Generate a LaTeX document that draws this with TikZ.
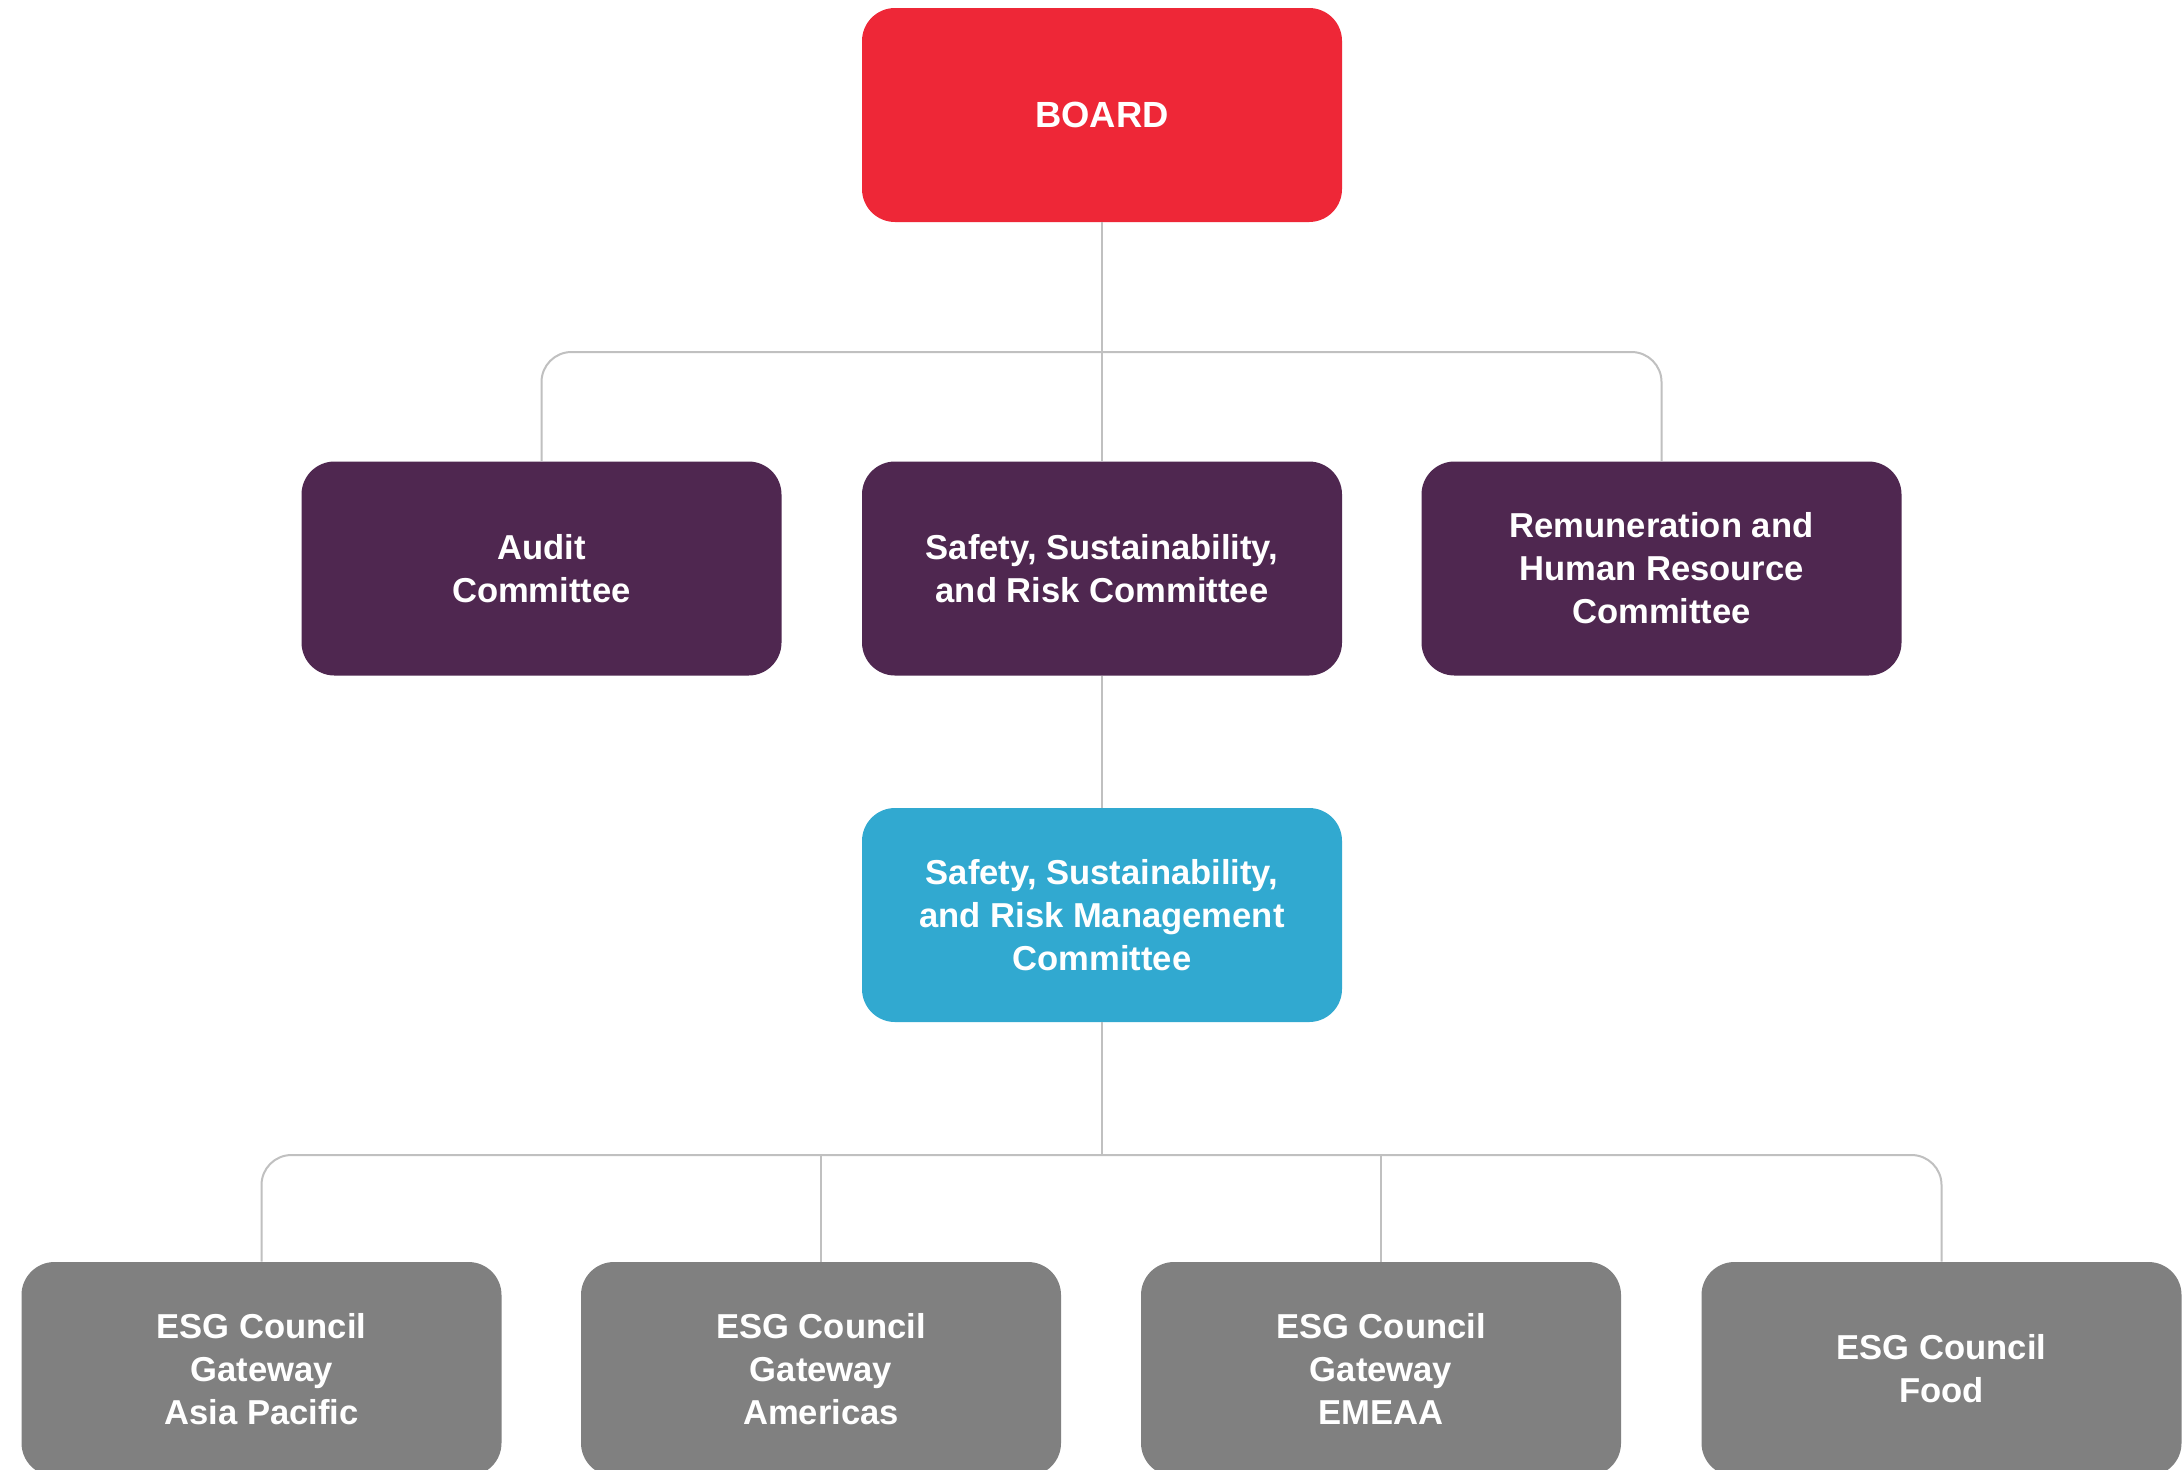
\documentclass[tikz,border=0pt]{standalone}
\usepackage{fontspec}
\setmainfont{Liberation Sans}
\definecolor{boardred}{HTML}{EE2737}
\definecolor{commpurple}{HTML}{4F2750}
\definecolor{mgmtblue}{HTML}{31A9D0}
\definecolor{councilgray}{HTML}{808080}
\definecolor{linegray}{HTML}{C0C0C0}
\begin{document}
\begin{tikzpicture}[x=0.5pt,y=-0.5pt,
  orgbox/.style={rectangle, rounded corners=16.5pt, minimum width=240pt, minimum height=107pt,
    inner sep=0pt, align=center, text=white,
    font=\fontsize{17.3pt}{21.5pt}\selectfont\bfseries},
  boardbox/.style={orgbox, fill=boardred, font=\fontsize{18.2pt}{21.5pt}\selectfont\bfseries},
  commbox/.style={orgbox, fill=commpurple},
  mgmtbox/.style={orgbox, fill=mgmtblue},
  councilbox/.style={orgbox, fill=councilgray},
  conn/.style={draw=linegray, line width=1pt},
  bar/.style={conn, rounded corners=15pt}]
\useasboundingbox (0,0) rectangle (2182,1469);
\fill[white] (0,0) rectangle (2182,1469);

\node[boardbox] (board) at (1102,115) {BOARD};

\node[commbox] (audit) at (541.5,568.5) {Audit\\Committee};
\node[commbox] (ssr) at (1102,568.5) {Safety, Sustainability,\\and Risk Committee};
\node[commbox] (rem) at (1661.5,568.5) {Remuneration and\\Human Resource\\Committee};

\node[mgmtbox] (ssrm) at (1102,915) {Safety, Sustainability,\\and Risk Management\\Committee};

\node[councilbox] (gap) at (261.5,1369) {ESG Council\\Gateway\\Asia Pacific};
\node[councilbox] (gam) at (821,1369) {ESG Council\\Gateway\\Americas};
\node[councilbox] (gem) at (1381,1369) {ESG Council\\Gateway\\EMEAA};
\node[councilbox] (food) at (1941.5,1369) {ESG Council\\Food};

\coordinate (bartop) at (1102,352);
\coordinate (barbot) at (1102,1155);

\draw[conn] (board.south) -- (ssr.north);
\draw[bar] (audit.north) |- (bartop) -| (rem.north);

\draw[conn] (ssr.south) -- (ssrm.north);
\draw[conn] (ssrm.south) -- (barbot);
\draw[bar] (gap.north) |- (barbot) -| (food.north);
\draw[conn] (barbot -| gam.north) -- (gam.north);
\draw[conn] (barbot -| gem.north) -- (gem.north);
\end{tikzpicture}
\end{document}
